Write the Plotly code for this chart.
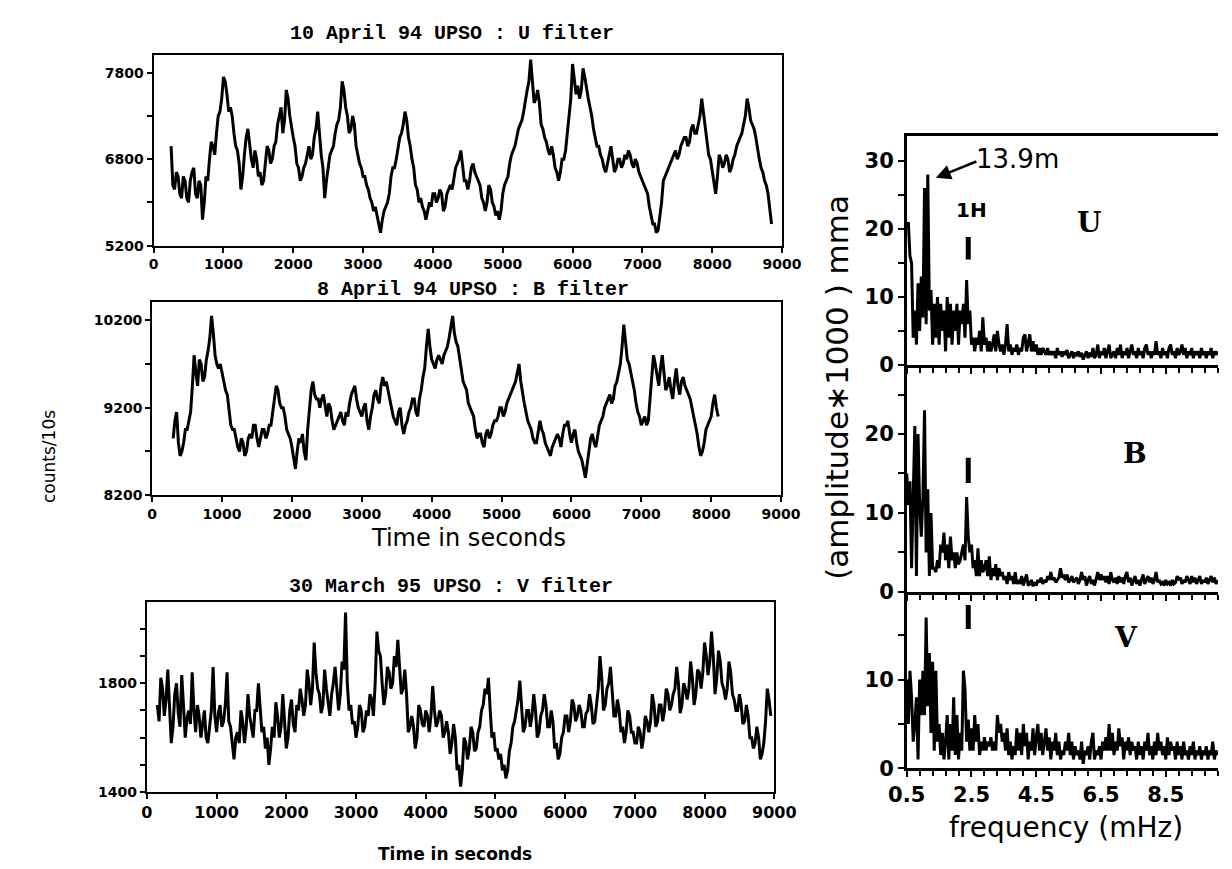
import numpy as np
import plotly.graph_objects as go

# ---------------- data ----------------
# Light curves: counts/10s. Main samples every 50 s from T0, plus the
# in-between samples (at +25 s).
U_T0, U_DT = 250, 50
U_counts = [6950, 6450, 6600, 6350, 6550, 6300, 6650, 6400, 6550, 6100,
            6600, 6800, 6950, 7100, 7350, 7750, 7550, 7400, 7100, 6900,
            6450, 6850, 7150, 6800, 6900, 6600, 6500, 6750, 6900, 6800,
            7000, 7300, 7100, 7600, 7300, 7050, 6750, 6550, 6700, 6850,
            6800, 7050, 7350, 6850, 6350, 6700, 6900, 7100, 7250, 7700,
            7400, 7100, 7300, 6950, 6750, 6600, 6500, 6350, 6200, 6150,
            5950, 6200, 6300, 6600, 6700, 6950, 7100, 7350, 7050, 6800,
            6500, 6300, 6250, 6100, 6300, 6400, 6300, 6450, 6200, 6400,
            6500, 6600, 6750, 6900, 6550, 6450, 6700, 6650, 6550, 6350,
            6200, 6500, 6300, 6150, 6100, 6400, 6550, 6750, 6900, 7050,
            7200, 7350, 7600, 7950, 7450, 7600, 7200, 7050, 6900, 6950,
            6700, 6550, 6800, 6900, 7300, 7900, 7550, 7500, 7850, 7600,
            7400, 7150, 6950, 6850, 6700, 6750, 6950, 6650, 6800, 6700,
            6850, 6900, 6750, 6800, 6650, 6550, 6450, 6250, 6050, 5950,
            6150, 6550, 6650, 6750, 6850, 6800, 6950, 7050, 6950, 7150,
            7100, 7200, 7500, 7150, 6850, 6650, 6400, 6850, 6700, 6850,
            6650, 6800, 6950, 7050, 7200, 7500, 7250, 7150, 6900, 6700,
            6550, 6400, 6050]
U_mid = [6500, 6650, 6400, 6600, 6350, 6550, 6700, 6350, 6500, 6300,
         6550, 7000, 6850, 7300, 7500, 7700, 7350, 7300, 6950, 6750,
         6600, 7050, 6950, 6700, 6800, 6650, 6550, 6950, 6750, 6950,
         7200, 7400, 7250, 7500, 7150, 6950, 6700, 6600, 6750, 6950,
         6850, 7150, 7050, 6700, 6550, 6850, 6950, 7200, 7400, 7600,
         7300, 7150, 7200, 6850, 6700, 6600, 6450, 6300, 6250, 6050,
         6100, 6250, 6400, 6700, 6800, 7050, 7200, 7250, 6950, 6700,
         6450, 6350, 6200, 6200, 6250, 6400, 6350, 6400, 6250, 6450,
         6450, 6700, 6800, 6750, 6550, 6550, 6750, 6600, 6500, 6300,
         6300, 6450, 6250, 6200, 6200, 6500, 6600, 6850, 6950, 7150,
         7250, 7500, 7700, 7700, 7500, 7450, 7150, 7000, 6850, 6850,
         6650, 6650, 6800, 7100, 7500, 7700, 7650, 7600, 7750, 7500,
         7300, 7050, 6950, 6800, 6650, 6850, 6800, 6700, 6800, 6750,
         6800, 6850, 6700, 6750, 6600, 6500, 6400, 6150, 6050, 5980,
         6300, 6600, 6700, 6800, 6900, 6850, 7000, 7050, 7000, 7200,
         7100, 7300, 7350, 7000, 6800, 6500, 6600, 6800, 6750, 6800,
         6700, 6850, 7000, 7100, 7300, 7400, 7200, 7050, 6800, 6650,
         6500, 6250]

B_T0, B_DT = 300, 50
B_counts = [8850, 9150, 8650, 8800, 8950, 9150, 9800, 9450, 9700, 9550,
            9850, 10250, 9800, 9650, 9600, 9400, 9200, 8950, 8850, 8700,
            8800, 8700, 8900, 9000, 8850, 8850, 8950, 8900, 9000, 9300,
            9400, 9200, 9100, 8900, 8750, 8500, 8850, 8900, 8600, 9200,
            9500, 9300, 9200, 9350, 9100, 9200, 8950, 9050, 9150, 9000,
            9100, 9350, 9450, 9200, 9100, 9250, 8950, 9200, 9400, 9250,
            9550, 9500, 9300, 9100, 9000, 9200, 8900, 9050, 9200, 9300,
            9100, 9400, 9650, 10100, 9750, 9650, 9800, 9700, 9850, 10000,
            10250, 9950, 9750, 9500, 9400, 9200, 9100, 8850, 8900, 8750,
            8950, 8900, 9050, 9100, 9200, 9150, 9300, 9400, 9500, 9700,
            9350, 9150, 9000, 8850, 8800, 9050, 8900, 8750, 8650, 8800,
            8900, 8750, 9000, 9050, 8800, 8950, 8700, 8600, 8400, 8700,
            8900, 8750, 9000, 9100, 9250, 9350, 9300, 9500, 9700, 10150,
            9750, 9600, 9400, 9150, 9000, 9100, 9050, 9550, 9700, 9450,
            9800, 9400, 9550, 9300, 9650, 9350, 9550, 9400, 9300, 9100,
            8900, 8650, 8800, 9000, 9100, 9350, 9100]
B_mid = [9050, 8800, 8700, 8950, 9050, 9450, 9600, 9750, 9500, 9750,
         10000, 10050, 9700, 9700, 9500, 9350, 9000, 8950, 8750, 8850,
         8650, 8850, 8850, 9000, 8750, 8950, 8850, 9000, 9150, 9450,
         9250, 9200, 8950, 8850, 8600, 8700, 8800, 8700, 8950, 9400,
         9350, 9300, 9300, 9200, 9250, 9050, 9000, 9100, 9050, 9150,
         9250, 9400, 9300, 9150, 9200, 9050, 9100, 9350, 9300, 9450,
         9450, 9400, 9200, 9050, 9150, 9000, 9000, 9150, 9300, 9150,
         9300, 9550, 9900, 9900, 9700, 9750, 9750, 9800, 9900, 10150,
         10050, 9900, 9600, 9450, 9250, 9150, 8950, 8900, 8800, 8900,
         8850, 9000, 9050, 9200, 9100, 9250, 9350, 9450, 9600, 9500,
         9250, 9050, 8950, 8800, 8950, 8950, 8800, 8700, 8750, 8850,
         8850, 8900, 9000, 8900, 8900, 8800, 8650, 8500, 8550, 8850,
         8800, 8900, 9050, 9200, 9300, 9250, 9450, 9600, 9900, 9950,
         9700, 9500, 9250, 9100, 9050, 9000, 9300, 9800, 9550, 9650,
         9600, 9450, 9400, 9500, 9450, 9500, 9450, 9350, 9200, 9000,
         8750, 8700, 8950, 9050, 9250, 9200]

V_T0, V_DT = 150, 50
V_counts = [1720, 1820, 1680, 1850, 1580, 1760, 1690, 1830, 1600, 1700,
            1840, 1620, 1680, 1650, 1600, 1640, 1860, 1620, 1720, 1660,
            1840, 1640, 1520, 1620, 1700, 1580, 1760, 1640, 1700, 1800,
            1620, 1560, 1500, 1640, 1730, 1600, 1760, 1560, 1700, 1650,
            1720, 1780, 1680, 1850, 1720, 1950, 1780, 1690, 1850, 1720,
            1760, 1860, 1700, 1880, 2060, 1700, 1650, 1600, 1720, 1620,
            1700, 1760, 1680, 1990, 1900, 1720, 1860, 1780, 1900, 1960,
            1760, 1850, 1620, 1680, 1560, 1720, 1650, 1700, 1620, 1790,
            1640, 1700, 1600, 1660, 1540, 1650, 1480, 1420, 1600, 1520,
            1640, 1550, 1620, 1700, 1780, 1820, 1600, 1550, 1520, 1480,
            1450, 1550, 1640, 1700, 1810, 1620, 1700, 1640, 1760, 1600,
            1680, 1760, 1640, 1700, 1560, 1520, 1600, 1680, 1620, 1740,
            1660, 1720, 1640, 1690, 1760, 1650, 1720, 1900, 1700, 1780,
            1860, 1680, 1740, 1620, 1580, 1700, 1620, 1580, 1640, 1560,
            1680, 1620, 1760, 1640, 1720, 1660, 1780, 1700, 1760, 1860,
            1690, 1800, 1740, 1880, 1720, 1850, 1780, 1950, 1830, 1990,
            1760, 1920, 1800, 1740, 1880, 1760, 1700, 1760, 1650, 1720,
            1600, 1560, 1640, 1520, 1580, 1780, 1680]
V_mid = [1660, 1780, 1740, 1700, 1640, 1800, 1640, 1720, 1670, 1650,
         1700, 1720, 1600, 1700, 1580, 1700, 1680, 1690, 1640, 1720,
         1660, 1580, 1600, 1580, 1660, 1640, 1680, 1600, 1700, 1720,
         1640, 1600, 1560, 1600, 1680, 1640, 1660, 1600, 1740, 1620,
         1700, 1740, 1720, 1800, 1780, 1840, 1760, 1720, 1780, 1680,
         1800, 1760, 1760, 1850, 1800, 1720, 1660, 1640, 1700, 1640,
         1680, 1740, 1800, 1920, 1800, 1760, 1840, 1800, 1860, 1860,
         1780, 1760, 1640, 1640, 1600, 1700, 1640, 1680, 1680, 1700,
         1660, 1680, 1620, 1620, 1580, 1600, 1500, 1480, 1580, 1560,
         1620, 1560, 1640, 1720, 1760, 1700, 1620, 1560, 1540, 1500,
         1480, 1580, 1660, 1740, 1720, 1640, 1700, 1680, 1700, 1620,
         1700, 1720, 1640, 1660, 1580, 1540, 1620, 1680, 1660, 1720,
         1680, 1700, 1640, 1700, 1720, 1660, 1780, 1820, 1720, 1800,
         1780, 1680, 1700, 1640, 1620, 1680, 1620, 1580, 1620, 1600,
         1660, 1660, 1720, 1660, 1720, 1700, 1760, 1720, 1780, 1800,
         1720, 1780, 1780, 1820, 1760, 1840, 1840, 1900, 1880, 1900,
         1820, 1880, 1780, 1780, 1840, 1740, 1700, 1720, 1660, 1680,
         1600, 1580, 1600, 1540, 1660, 1740]

# Amplitude spectra (amplitude*1000, mma), sampled every 0.05 mHz from 0.5 mHz
F0, DF = 0.5, 0.05
U_amp = [20, 21, 16, 15, 4, 8, 3, 12, 5, 13, 7, 26, 6, 28, 8, 11, 3, 9, 4, 10,
         3, 9, 5, 8, 2, 10, 4, 9, 3, 8, 5, 9, 3, 8, 6, 9, 4, 12.5, 6, 8,
         3, 4, 2, 4, 3, 5, 2, 7, 3, 4, 2, 3.5, 2, 3, 4.5, 2, 5, 3, 2, 3,
         1.5, 3, 6, 2, 3, 1.5, 2.5, 2, 3, 1.5, 2.5, 2, 4, 4.5, 2, 3.5, 4.5, 2, 3.5, 2,
         3, 1.5, 2.5, 1.5, 2.5, 2, 1.5, 2.5, 1.5, 2, 1.5, 2, 1, 2.5, 1.5, 2, 1.2, 2, 1.5, 2.2,
         1, 1.5, 2, 1, 1.8, 1.5, 2, 1.2, 1.8, 0.8, 1.5, 2, 1, 1.8, 1.2, 2.5, 1, 1.5, 3, 1,
         2, 1.5, 2.5, 1, 2, 3, 1, 1.5, 2, 1, 2.5, 1.5, 3, 1, 2, 1.5, 2.5, 1, 2, 3,
         1.5, 2, 1, 2.5, 1.5, 2, 1, 2.5, 3, 1.5, 2, 1, 2, 1.5, 3.5, 1.5, 2, 1, 2.5, 1.5,
         2, 1, 2.5, 3, 1.5, 2, 1, 2.5, 1.5, 2, 3, 1.5, 2.5, 1, 2, 1.5, 2.5, 1, 2, 1.5,
         2, 1, 2.5, 1.5, 2, 1, 2, 1.5, 2.5, 1, 2, 1.5, 2]
B_amp = [15, 11, 14, 3, 12, 21, 2, 20, 11, 7, 12, 23, 5, 13, 2, 10, 3, 3, 2.5, 4,
         3, 6, 5, 7.5, 4, 6, 3, 7, 4, 5, 3, 5, 3.5, 4, 5, 6, 4, 12, 7, 5,
         6, 3, 4, 2, 5.5, 2, 4, 2.5, 3, 4, 2, 4.5, 1.5, 3, 2, 3.5, 1.5, 3, 2, 2.5,
         1.5, 2, 1, 2.5, 1.5, 2, 1, 2.5, 1, 1.5, 1, 2, 0.8, 1.5, 2.2, 0.8, 1, 1.5, 0.7, 1.2,
         0.8, 1.5, 1.2, 1.8, 1, 1.5, 1.2, 2, 1.5, 2.5, 1.5, 1.8, 1.2, 1.5, 1.8, 3, 1.8, 2, 1.5, 2.2,
         1.2, 1.5, 2, 1.2, 1.5, 1.8, 1, 1.5, 2.5, 1.5, 2, 0.8, 1.5, 2, 1, 1.5, 0.8, 1.5, 2.5, 1.5,
         2.2, 1.5, 2, 1.2, 2, 1, 2.5, 1.5, 1.2, 1.8, 1, 2, 1.2, 1.8, 1, 2, 2.5, 1.2, 1.8, 0.8,
         1.5, 2, 1, 1.5, 0.8, 1.5, 2.2, 1, 1.5, 2, 1.2, 1.8, 1, 1.5, 2.5, 1.2, 1.5, 1, 1.2, 0.8,
         1.5, 1, 1.2, 0.8, 1.5, 1, 1.2, 2, 1.5, 1.8, 1, 1.5, 1.2, 2, 1.5, 1, 2, 1.2, 1.8, 1,
         1.5, 2, 1, 1.5, 1.2, 1.8, 1, 1.5, 2, 1.2, 1.8, 1, 1.5]
V_amp = [10, 5, 11, 8, 3, 5, 8, 1, 10, 6, 11, 6, 17, 7, 13, 4, 12, 2, 11, 3,
         5, 1.5, 4, 1, 3, 6, 1, 5, 2, 8, 1.5, 6, 1, 4, 2, 11, 9, 3, 5.5, 2,
         4.5, 2, 6, 3, 5, 1.5, 3, 2, 3.5, 2, 3, 2.5, 3.5, 2, 3, 2, 6, 4, 5, 3,
         4, 2, 4.5, 1.5, 3, 1, 2.5, 1.5, 4.5, 2, 4, 1.5, 5, 2.5, 4, 1, 3, 2, 4.5, 1.5,
         3.5, 5, 2, 4, 1.5, 3, 4.5, 2, 3.5, 1, 3, 2, 4, 1.5, 3, 1, 2, 1.5, 3, 2,
         4, 1.5, 3, 1, 2.5, 1.5, 2, 1, 3, 0.5, 2, 1.5, 2.5, 1, 3, 4, 1, 2, 1.5, 2.5,
         1, 3, 2, 3.5, 2, 5, 2, 4, 1.5, 3, 2, 4.5, 2.5, 3.5, 1, 3, 2, 3.5, 1.5, 3,
         2, 2.5, 1, 3, 1.5, 2.5, 1, 3, 2, 4, 1.5, 2.5, 1, 3, 1.5, 4, 2, 3, 1.5, 2.5,
         1, 3.5, 1.5, 3, 2, 2.5, 1, 3, 1.5, 2.5, 1, 3, 1.5, 2, 1, 2.5, 1.5, 3, 1, 2,
         1.5, 2.5, 1, 2, 1.5, 2.5, 1, 2, 1.5, 3, 1, 2, 1.5]

LC_XTICKS = [0, 1000, 2000, 3000, 4000, 5000, 6000, 7000, 8000, 9000]
SP_XTICKS = [0.5, 2.5, 4.5, 6.5, 8.5]
H1_FREQ = 2.4
PEAK_FREQ, PEAK_AMP = 1.15, 28

# ---------------- figure ----------------
W, H = 1232, 869


def px_x(a, b):
    return [a / W, b / W]


def px_y(top, bottom):
    return [1 - bottom / H, 1 - top / H]


def merge(t0, dt, vals, mids):
    t, y = [], []
    for i, v in enumerate(vals):
        t.append(t0 + dt * i)
        y.append(v)
        if i < len(mids) and i < len(vals) - 1:
            t.append(t0 + dt * i + dt / 2)
            y.append(mids[i])
    return t, y


u_t, u_y = merge(U_T0, U_DT, U_counts, U_mid)
b_t, b_y = merge(B_T0, B_DT, B_counts, B_mid)
v_t, v_y = merge(V_T0, V_DT, V_counts, V_mid)
fu = np.round(F0 + DF * np.arange(len(U_amp)), 3)
fb = np.round(F0 + DF * np.arange(len(B_amp)), 3)
fv = np.round(F0 + DF * np.arange(len(V_amp)), 3)

fig = go.Figure()
line_lc = dict(color="black", width=3)
line_sp = dict(color="black", width=3)
fig.add_trace(go.Scatter(x=u_t, y=u_y, mode="lines", line=line_lc, xaxis="x", yaxis="y"))
fig.add_trace(go.Scatter(x=b_t, y=b_y, mode="lines", line=line_lc, xaxis="x2", yaxis="y2"))
fig.add_trace(go.Scatter(x=v_t, y=v_y, mode="lines", line=line_lc, xaxis="x3", yaxis="y3"))
fig.add_trace(go.Scatter(x=fu, y=U_amp, mode="lines", line=line_sp, xaxis="x4", yaxis="y4"))
fig.add_trace(go.Scatter(x=fb, y=B_amp, mode="lines", line=line_sp, xaxis="x5", yaxis="y5"))
fig.add_trace(go.Scatter(x=fv, y=V_amp, mode="lines", line=line_sp, xaxis="x6", yaxis="y6"))

tick_font_u = dict(family="DejaVu Sans", size=14, color="black", weight="bold")
tick_font_b = dict(family="DejaVu Sans", size=14, color="black", weight="bold")
tick_font_v = dict(family="DejaVu Sans", size=16, color="black", weight="bold")
tick_font_sp = dict(family="DejaVu Sans", size=21, color="black", weight="bold")


def lc_x(domain, font, anchor):
    return dict(domain=domain, range=[0, 9000], tickvals=LC_XTICKS, ticks="outside",
                ticklen=5, tickwidth=2, tickcolor="black", showline=True, linewidth=2,
                linecolor="black", mirror=True, showgrid=False, zeroline=False,
                tickfont=font, anchor=anchor)


def lc_y(domain, rng, vals, text, font, anchor):
    return dict(domain=domain, range=rng, tickvals=vals, ticktext=text, ticks="outside",
                ticklen=5, tickwidth=2, tickcolor="black", showline=True, linewidth=2,
                linecolor="black", mirror=True, showgrid=False, zeroline=False,
                tickfont=font, anchor=anchor)


SP_X0_PX, SP_PX_PER_MHZ = 910, 33.5
SP_XR = [0.5, 0.5 + (W - SP_X0_PX) / SP_PX_PER_MHZ]


def sp_x(domain, anchor, labels, mirror):
    return dict(domain=domain, range=SP_XR, tickvals=SP_XTICKS, ticks="outside",
                ticklen=6, tickwidth=2, tickcolor="black", showline=True, linewidth=2.5,
                linecolor="black", mirror=mirror, showgrid=False, zeroline=False,
                showticklabels=labels, tickfont=tick_font_sp, anchor=anchor,
                minor=dict(tick0=0.5, dtick=0.4, ticks="outside", ticklen=5,
                           tickwidth=2, tickcolor="black"))


def sp_y(domain, rng, vals, text, anchor):
    return dict(domain=domain, range=rng, tickvals=vals, ticktext=text, ticks="outside",
                ticklen=6, tickwidth=2, tickcolor="black", showline=True, linewidth=2.5,
                linecolor="black", mirror=False, showgrid=False, zeroline=False,
                tickfont=tick_font_sp, anchor=anchor)


dU = px_y(48, 241)
dB = px_y(298, 494)
dV = px_y(602, 795)
RX = [SP_X0_PX / W, 1.0]
TOP, U0, B0, V0 = 130, 362, 592, 771
KU, KB, KV = 6.9, 8.0, 9.0      # pixels per mma unit in each spectrum panel
dUs = px_y(TOP, U0)
dBs = px_y(U0, B0)
dVs = px_y(B0, V0)

fig.update_layout(
    width=W, height=H, margin=dict(l=0, r=0, t=0, b=0),
    paper_bgcolor="white", plot_bgcolor="white", showlegend=False,
    xaxis=lc_x(px_x(131, 781), tick_font_u, "y"),
    yaxis=lc_y(dU, [5800, 8000], [5800, 6300, 6800, 7300, 7800],
               ["5200", "", "6800", "", "7800"], tick_font_u, "x"),
    xaxis2=lc_x(px_x(129.5, 780), tick_font_b, "y2"),
    yaxis2=lc_y(dB, [8200, 10410], [8200, 8700, 9200, 9700, 10200],
                ["8200", "", "9200", "", "10200"], tick_font_b, "x2"),
    xaxis3=lc_x(px_x(124, 773), tick_font_v, "y3"),
    yaxis3=lc_y(dV, [1400, 2100], [1400, 1500, 1600, 1700, 1800, 1900, 2000],
                ["1400", "", "", "", "1800", "", ""], tick_font_b, "x3"),
    xaxis4=sp_x(RX, "y4", False, True),
    yaxis4=sp_y(dUs, [0, (U0 - TOP) / KU], [0, 5, 10, 15, 20, 25, 30],
                ["0", "", "10", "", "20", "", "30"], "x4"),
    xaxis5=sp_x(RX, "y5", False, False),
    yaxis5=sp_y(dBs, [0, (B0 - U0) / KB], [0, 5, 10, 15, 20, 25],
                ["0", "", "10", "", "20", ""], "x5"),
    xaxis6=sp_x(RX, "y6", True, False),
    yaxis6=sp_y(dVs, [0, (V0 - B0) / KV], [0, 5, 10, 15],
                ["0", "", "10", ""], "x6"),
)

title_font = dict(family="Liberation Mono", size=20, color="black", weight="bold")


def ann(text, x, y, font, **kw):
    d = dict(text=text, x=x / W, y=1 - y / H, xref="paper", yref="paper",
             showarrow=False, font=font, xanchor="center", yanchor="middle")
    d.update(kw)
    fig.add_annotation(**d)


ann("10 April 94 UPSO : U filter", 440, 26, title_font)
ann("8 April 94 UPSO : B filter", 461, 285, title_font)
ann("30 March 95 UPSO : V filter", 439, 587, title_font)
ann("Time in seconds", 457, 537, dict(family="DejaVu Sans", size=24, color="black"))
ann("Time in seconds", 443, 858, dict(family="DejaVu Sans", size=17, color="black", weight="bold"))
ann("counts/10s", 22, 455, dict(family="DejaVu Sans", size=17, color="black"), textangle=-90)
ann("(amplitude∗1000 ) mma", 838, 385, dict(family="DejaVu Sans", size=31, color="black"),
    textangle=-90)
ann("frequency (mHz)", 1075, 831, dict(family="DejaVu Sans", size=28, color="black"))
ann("1H", 977, 205, dict(family="DejaVu Sans", size=20, color="black", weight="bold"))
ann("U", 1099, 218, dict(family="DejaVu Serif", size=28, color="black", weight="bold"))
ann("B", 1146, 452, dict(family="DejaVu Serif", size=28, color="black", weight="bold"))
ann("V", 1137, 638, dict(family="DejaVu Serif", size=28, color="black", weight="bold"))
ann("13.9m", 1025, 153, dict(family="DejaVu Sans", size=26, color="black"))

# arrow from the 13.9m label to the main U peak
fig.add_annotation(x=PEAK_FREQ + 0.25, y=PEAK_AMP - 0.5, xref="x4", yref="y4",
                   ax=42, ay=-17, axref="pixel", ayref="pixel",
                   text="", showarrow=True, arrowhead=2, arrowsize=1.2, arrowwidth=2.5,
                   arrowcolor="black")

# 1H markers (vertical dashes) in each spectrum panel
for xr, yr, y1, y2 in [("x4", "y4", 15.5, 18.8), ("x5", "y5", 13.8, 17.0),
                       ("x6", "y6", 15.7, 18.4)]:
    fig.add_shape(type="line", xref=xr, yref=yr, x0=H1_FREQ, x1=H1_FREQ, y0=y1, y1=y2,
                  line=dict(color="black", width=5))

fig.write_html("out.html")
